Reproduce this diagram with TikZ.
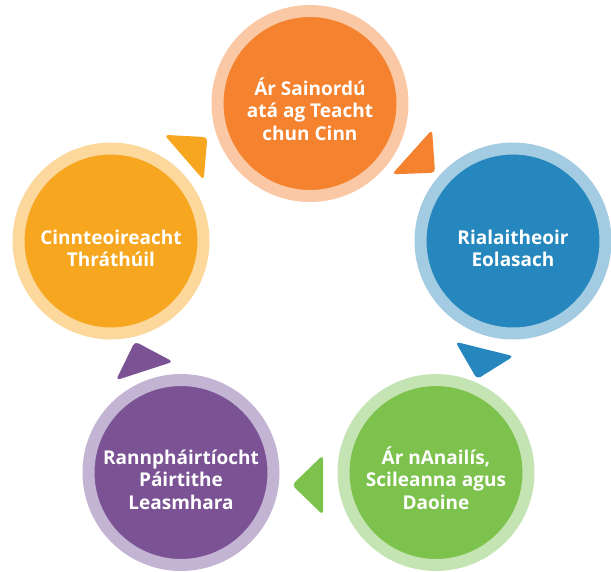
\documentclass[tikz,border=0pt]{standalone}
\usepackage{fontspec}
\setmainfont{Open Sans}
\definecolor{orangeDark}{HTML}{F4822F}
\definecolor{orangeLight}{HTML}{FAC8A4}
\definecolor{blueDark}{HTML}{2587BD}
\definecolor{blueLight}{HTML}{A3CBE1}
\definecolor{greenDark}{HTML}{7CC24D}
\definecolor{greenLight}{HTML}{C5E4B4}
\definecolor{purpleDark}{HTML}{7B5395}
\definecolor{purpleLight}{HTML}{C4B4D3}
\definecolor{yellowDark}{HTML}{F7A71F}
\definecolor{yellowLight}{HTML}{FCD89C}
\newcommand{\stagestrut}{\rule{0pt}{29pt}}
\begin{document}
\begin{tikzpicture}[x=1pt, y=-1pt,
        stage/.style={circle, minimum size=185pt, line width=12pt, inner sep=0pt,
            text=white, align=center, font=\bfseries\fontsize{19}{22.5}\selectfont}]
            \useasboundingbox (0,0) rectangle (611,571);
            % Stages
            \node[stage, fill=orangeDark, draw=orangeLight] (sainordu) at (310,103.5) {\stagestrut Ár Sainordú\\atá ag Teacht\\chun Cinn};
            \node[stage, fill=blueDark, draw=blueLight] (rialaitheoir) at (513,241) {\stagestrut Rialaitheoir\\Eolasach};
            \node[stage, fill=greenDark, draw=greenLight] (anailis) at (436,472.5) {\stagestrut Ár nAnailís,\\Scileanna agus\\Daoine};
            \node[stage, fill=purpleDark, draw=purpleLight] (rannphairt) at (181,472.5) {\stagestrut Rannpháirtíocht\\Páirtithe\\Leasmhara};
            \node[stage, fill=yellowDark, draw=yellowLight] (cinnteoir) at (111,241) {\stagestrut Cinnteoireacht\\Thráthúil};
            % Arrows
            \foreach \x/\y/\a/\c in {412/152/-42/orangeDark, 484.5/349/-104/blueDark, 323/485/180/greenDark, 144.5/371/108/purpleDark, 184/157.5/41/yellowDark} {
                \fill[\c, rounded corners=4pt, shift={(\x,\y)}, rotate=\a] (31,0) -- (0,30) -- (0,-30) -- cycle;
            }
        \end{tikzpicture}
\end{document}
